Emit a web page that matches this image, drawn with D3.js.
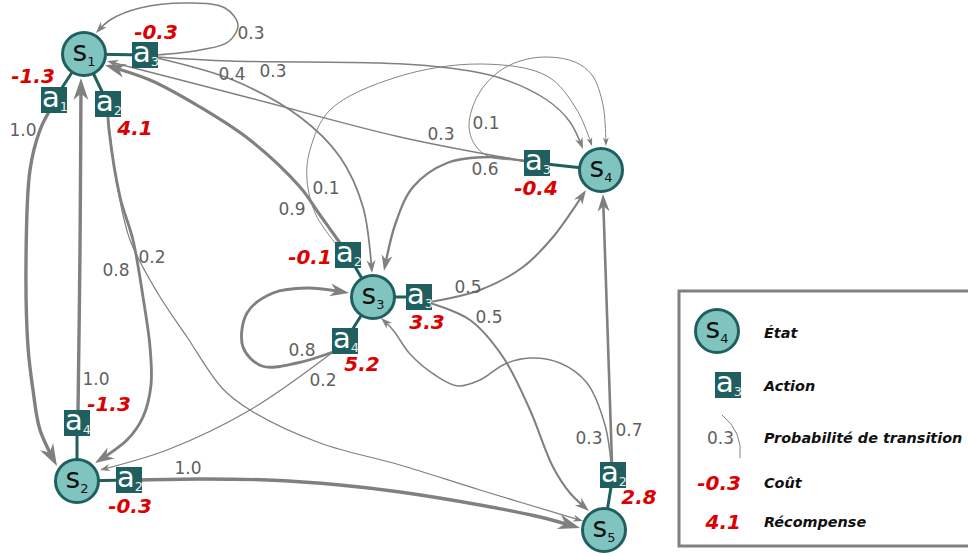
<!DOCTYPE html>
<html><head><meta charset="utf-8">
<script src="https://cdn.jsdelivr.net/npm/d3@7"></script>
<style>body{margin:0;background:#fff} svg{display:block;font-family:"DejaVu Sans",sans-serif}</style>
</head><body><svg id="c" width="968" height="556"></svg>
<script>
// ---------------- data ----------------
const states = ["1","2","3","4","5"];
// [state, action, reward]
const actions = [
  ["1","1",-1.3],["1","2",4.1],["1","3",-0.3],
  ["2","4",-1.3],["2","2",-0.3],
  ["3","2",-0.1],["3","3",3.3],["3","4",5.2],
  ["4","3",-0.4],
  ["5","2",2.8]
];
// [state, action, target, probability]
const transitions = [
  ["1","1","2",1.0],
  ["1","2","2",0.8],["1","2","5",0.2],
  ["1","3","1",0.3],["1","3","4",0.3],["1","3","3",0.4],
  ["2","4","1",1.0],["2","2","5",1.0],
  ["3","2","1",0.9],["3","2","4",0.1],
  ["3","3","4",0.5],["3","3","5",0.5],
  ["3","4","3",0.8],["3","4","2",0.2],
  ["4","3","1",0.3],["4","3","3",0.6],["4","3","4",0.1],
  ["5","2","4",0.7],["5","2","3",0.3]
];
const legendLabels = ["État","Action","Probabilité de transition","Coût","Récompense"];
const legendSamples = {state:"4", action:"3", prob:0.3, cost:-0.3, reward:4.1};

// ---------------- layout ----------------
const statePos = {"1":[84,54],"2":[77,481],"3":[373,297],"4":[601,170],"5":[604,530]};
const actionPos = {"1-1":[54,100],"1-2":[108,104],"1-3":[145,55],"2-4":[77,423],"2-2":[129,480],
  "3-2":[348,255],"3-3":[419,297],"3-4":[345,341],"4-3":[537,163],"5-2":[613,475]};
const rewardPos = {"1-1":[33,76],"1-2":[135,128],"1-3":[156,32],"2-4":[109,404],"2-2":[130,506],
  "3-2":[310,257],"3-3":[427,322],"3-4":[362,364],"4-3":[536,188],"5-2":[639,497]};
const routes = {
  "1-1-2":[[50,110],[40,130],[30,170],[26,263],[28,347],[33,390],[40,430],[57,466]],
  "1-2-2":[[108,116],[109,130],[120,197],[133,240],[143,297],[150,347],[151,385],[143,417],[127,440],[95,463]],
  "1-2-5":[[108,116],[118,190],[130,240],[157,292],[187,337],[222,388],[250,410],[320,443],[400,465],[480,490],[583,521]],
  "1-3-1":[[157,55],[200,50],[228,42],[238,25],[225,8],[190,3],[140,8],[110,20],[96,33]],
  "1-3-4":[[157,57],[230,61],[380,63],[440,67],[497,77],[547,100],[570,122],[583,149]],
  "1-3-3":[[157,58],[233,80],[300,117],[340,157],[363,207],[372,273]],
  "2-4-1":[[78,412],[80,250],[81,78]],
  "2-2-5":[[140,480],[200,479],[267,480],[340,485],[400,492],[480,505],[540,517],[580,528]],
  "3-2-1":[[340,243],[320,215],[300,187],[250,140],[200,107],[150,80],[105,65]],
  "3-2-4":[[336,244],[316,215],[307,180],[310,150],[330,110],[397,77],[480,64],[547,76],[577,110],[592,146]],
  "3-3-4":[[430,302],[480,290],[523,267],[553,237],[586,190]],
  "3-3-5":[[430,303],[470,320],[503,357],[530,410],[553,467],[570,493],[589,511]],
  "3-4-3":[[333,352],[297,363],[262,366],[243,347],[247,313],[273,293],[307,288],[349,293]],
  "3-4-2":[[333,352],[250,410],[167,450],[100,470]],
  "4-3-1":[[524,161],[400,137],[250,98],[107,61]],
  "4-3-3":[[524,161],[490,157],[447,163],[413,187],[395,225],[384,271]],
  "4-3-4":[[524,160],[490,157],[475,145],[469,125],[478,95],[497,73],[520,61],[547,57],[575,62],[592,75],[603,105],[606,146]],
  "5-2-4":[[612,463],[603,194]],
  "5-2-3":[[611,463],[605,425],[587,383],[560,363],[530,358],[505,364],[480,380],[458,386],[435,375],[410,354],[393,330],[381,318]]
};
const probPos = {"1-1-2":[23,130],"1-2-2":[116,270],"1-2-5":[152,257],"1-3-1":[251,33],"1-3-4":[273,71],
  "1-3-3":[232,74],"2-4-1":[96,379],"2-2-5":[188,468],"3-2-1":[292,209],"3-2-4":[326,188],
  "3-3-4":[468,287],"3-3-5":[489,317],"3-4-3":[302,350],"3-4-2":[323,380],"4-3-1":[441,134],
  "4-3-3":[485,169],"4-3-4":[486,123],"5-2-4":[629,430],"5-2-3":[589,438]};

// ---------------- styles ----------------
const C = {fill:"#80c4c0", dark:"#1f5f5f", edge:"#808080", prob:"#606060", red:"#dd0000"};

const svg = d3.select("#c");
const width = d3.scaleLinear().domain([0,1]).range([0.7,3.4]);
const arrowLen = d3.scaleLinear().domain([0,1]).range([7,22]);
const arrowHW = d3.scaleLinear().domain([0,1]).range([2.5,7.5]);
const curve = d3.line().curve(d3.curveCatmullRom.alpha(0.5));

const gEdges = svg.append("g"), gStems = svg.append("g"), gStates = svg.append("g"),
      gActions = svg.append("g"), gText = svg.append("g");

transitions.forEach(([s,a,t,p])=>{
  const key = `${s}-${a}-${t}`;
  const path = gEdges.append("path").attr("d", curve(routes[key]))
    .attr("fill","none").attr("stroke",C.edge).attr("stroke-width",width(p));
  const n = path.node(), total = n.getTotalLength();
  const L = arrowLen(p), hw = arrowHW(p);
  path.attr("stroke-dasharray", `${total - L*0.6} ${total+20}`);
  const tip = n.getPointAtLength(total), back = n.getPointAtLength(Math.max(0,total-5));
  const ang = Math.atan2(tip.y-back.y, tip.x-back.x)*180/Math.PI;
  gEdges.append("path").attr("d",`M0,0L${-L},${-hw}L${-0.7*L},0L${-L},${hw}Z`)
    .attr("fill",C.edge).attr("transform",`translate(${tip.x},${tip.y}) rotate(${ang})`);
  const lp = probPos[key];
  gText.append("text").attr("x",lp[0]).attr("y",lp[1]).attr("dy","0.36em")
    .attr("text-anchor","middle").attr("font-size",17).attr("fill",C.prob).text(p.toFixed(1));
});

function drawState(g, x, y, id){
  g.append("circle").attr("cx",x).attr("cy",y).attr("r",21.5)
    .attr("fill",C.fill).attr("stroke",C.dark).attr("stroke-width",3);
  const t = g.append("text").attr("x",x).attr("y",y+7).attr("text-anchor","middle").attr("fill","#111");
  t.append("tspan").attr("font-size",28).text("s");
  t.append("tspan").attr("font-size",13).attr("dy",5).text(id);
}
function drawAction(g, x, y, id){
  g.append("rect").attr("x",x-13).attr("y",y-13).attr("width",26).attr("height",26).attr("fill",C.dark);
  const t = g.append("text").attr("x",x+1).attr("y",y+7).attr("text-anchor","middle").attr("fill","#fff");
  t.append("tspan").attr("font-size",29).text("a");
  t.append("tspan").attr("font-size",13).attr("dy",4).attr("fill","#e6eeee").text(id);
}
function redText(g, x, y, v, anchor){
  g.append("text").attr("x",x).attr("y",y).attr("dy","0.36em").attr("text-anchor",anchor||"middle")
    .attr("font-size",20).attr("font-weight","bold").attr("font-style","italic")
    .attr("fill",C.red).text(v.toFixed(1));
}

// stems
actions.forEach(([s,a])=>{
  const sp = statePos[s], ap = actionPos[`${s}-${a}`];
  gStems.append("line").attr("x1",sp[0]).attr("y1",sp[1]).attr("x2",ap[0]).attr("y2",ap[1])
    .attr("stroke",C.dark).attr("stroke-width",3);
});
states.forEach(s=>drawState(gStates, statePos[s][0], statePos[s][1], s));
actions.forEach(([s,a,r])=>{
  const k = `${s}-${a}`;
  drawAction(gActions, actionPos[k][0], actionPos[k][1], a);
  redText(gText, rewardPos[k][0], rewardPos[k][1], r);
});

// ---------------- legend ----------------
const lg = svg.append("g");
lg.append("rect").attr("x",679).attr("y",291).attr("width",310).attr("height",255)
  .attr("fill","#fff").attr("stroke","#808080").attr("stroke-width",3);
drawState(lg, 717, 331, legendSamples.state);
drawAction(lg, 728, 385, legendSamples.action);
lg.append("path").attr("d","M722,415Q743,432 740,458").attr("fill","none").attr("stroke",C.edge).attr("stroke-width",1);
lg.append("text").attr("x",734).attr("y",438).attr("dy","0.36em").attr("text-anchor","end")
  .attr("font-size",17).attr("fill",C.prob).text(legendSamples.prob.toFixed(1));
redText(lg, 741, 483, legendSamples.cost, "end");
redText(lg, 741, 522, legendSamples.reward, "end");
const ly = [333,386,438,483,522];
legendLabels.forEach((l,i)=>{
  lg.append("text").attr("x",764).attr("y",ly[i]).attr("dy","0.36em").attr("font-size",14.4)
    .attr("font-weight","bold").attr("font-style","italic").attr("fill","#111").text(l);
});
</script></body></html>
